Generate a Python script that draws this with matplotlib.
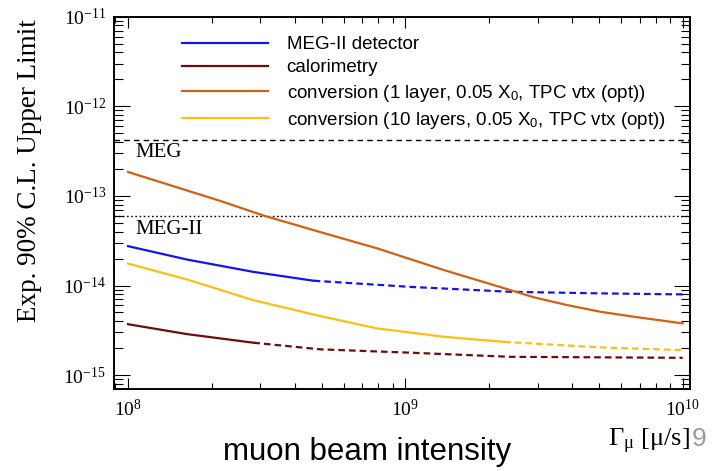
import numpy as np
import matplotlib
matplotlib.use("Agg")
import matplotlib.pyplot as plt
from matplotlib.ticker import FixedLocator, FuncFormatter, NullFormatter

plt.rcParams['mathtext.fontset'] = 'custom'
plt.rcParams['mathtext.rm'] = 'Liberation Serif'
plt.rcParams['mathtext.it'] = 'Liberation Serif:italic'
plt.rcParams['mathtext.sf'] = 'Liberation Sans'
plt.rcParams['font.family'] = ['Liberation Sans', 'DejaVu Sans']

# ---------------- data ----------------
meg_limit = 4.2e-13
megii_sens = 5.9e-14

x_ticks = [1e8, 1e9, 1e10]
y_ticks = [1e-15, 1e-14, 1e-13, 1e-12, 1e-11]

det_x_solid = [1e8, 1.63e8, 2.83e8, 4.67e8]
det_y_solid = [2.75e-14, 1.95e-14, 1.42e-14, 1.13e-14]
det_x_dash = [4.67e8, 1.04e9, 2.39e9, 5.06e9, 1e10]
det_y_dash = [1.13e-14, 9.66e-15, 8.51e-15, 8.17e-15, 7.96e-15]

cal_x_solid = [1e8, 1.63e8, 2.83e8]
cal_y_solid = [3.7e-15, 2.87e-15, 2.3e-15]
cal_x_dash = [2.83e8, 4.93e8, 1.04e9, 2.39e9, 1e10]
cal_y_dash = [2.3e-15, 1.94e-15, 1.78e-15, 1.6e-15, 1.56e-15]

conv1_x = [1e8, 2.15e8, 3.1e8, 4.93e8, 7.91e8, 1.375e9, 2.39e9, 2.9e9,
           3.84e9, 5.06e9, 6.67e9, 1e10]
conv1_y = [1.85e-13, 8.8e-14, 6.0e-14, 3.95e-14, 2.6e-14, 1.49e-14, 8.9e-15, 7.4e-15,
           6.04e-15, 5.09e-15, 4.48e-15, 3.78e-15]

conv10_x_solid = [1e8, 1.63e8, 2.83e8, 4.93e8, 7.91e8, 1.375e9, 2.27e9]
conv10_y_solid = [1.76e-14, 1.17e-14, 6.87e-15, 4.56e-15, 3.32e-15, 2.68e-15, 2.35e-15]
conv10_x_dash = [2.27e9, 5.06e9, 1e10]
conv10_y_dash = [2.35e-15, 2.04e-15, 1.9e-15]

labels = ["MEG-II detector",
          "calorimetry",
          r"conversion (1 layer, 0.05 X$_\mathsf{0}$, TPC vtx (opt))",
          r"conversion (10 layers, 0.05 X$_\mathsf{0}$, TPC vtx (opt))"]
colors = ["#1414f0", "#6e0b0b", "#d3600f", "#ffbe12"]

# ---------------- figure ----------------
fig = plt.figure(figsize=(7.2, 4.71), dpi=100)
L, R, T, B = 114.3, 690.0, 16.7, 389.3
ax = fig.add_axes([L/720, 1-B/471, (R-L)/720, (B-T)/471])
ax.set_xscale('log')
ax.set_yscale('log')
ax.set_xlim(10**(8-13.7/277), 10**(10+7.3/277))
ax.set_ylim(10**(-13-(B-195.7)/89.7), 1e-11)

lw = 1.6
dash = (3.0, 1.8)
ax.axhline(meg_limit, color='black', lw=1.0, ls=(0, (4, 3)))
ax.axhline(megii_sens, color='black', lw=1.0, ls=(0, (1.2, 1.8)))

ax.plot(det_x_solid, det_y_solid, color=colors[0], lw=lw, label=labels[0])
ax.plot(det_x_dash, det_y_dash, color=colors[0], lw=lw, dashes=dash)
ax.plot(cal_x_solid, cal_y_solid, color=colors[1], lw=lw, label=labels[1])
ax.plot(cal_x_dash, cal_y_dash, color=colors[1], lw=lw, dashes=dash)
ax.plot(conv1_x, conv1_y, color=colors[2], lw=lw, label=labels[2])
ax.plot(conv10_x_solid, conv10_y_solid, color=colors[3], lw=lw, label=labels[3])
ax.plot(conv10_x_dash, conv10_y_dash, color=colors[3], lw=lw, dashes=dash)

ax.text((135-L)/(R-L), 0.636, "MEG", transform=ax.transAxes, ha='left', va='center',
        fontsize=15, family='Liberation Serif')
ax.text((135-L)/(R-L), 0.430, "MEG-II", transform=ax.transAxes, ha='left', va='center',
        fontsize=15, family='Liberation Serif')

leg = ax.legend(loc='upper left', bbox_to_anchor=((181.7-L)/(R-L), (B-36)/(B-T)),
                frameon=False, fontsize=13.5, handlelength=4.6, handletextpad=1.0,
                labelspacing=0.33, borderaxespad=0, borderpad=0)

# ticks
minor_x = [m * 10.0**d for d in range(7, 11) for m in range(2, 10)]
minor_y = [m * 10.0**d for d in range(-16, -10) for m in range(2, 10)]
ax.xaxis.set_major_locator(FixedLocator(x_ticks))
ax.yaxis.set_major_locator(FixedLocator(y_ticks))
ax.xaxis.set_minor_locator(FixedLocator(minor_x))
ax.yaxis.set_minor_locator(FixedLocator(minor_y))
fmt = FuncFormatter(lambda v, p: r"$\mathrm{10^{%d}}$" % int(round(np.log10(v))))
ax.xaxis.set_major_formatter(fmt)
ax.yaxis.set_major_formatter(fmt)
ax.xaxis.set_minor_formatter(NullFormatter())
ax.yaxis.set_minor_formatter(NullFormatter())

ax.tick_params(axis='both', which='both', direction='in', top=True, right=True,
               width=0.8, labelsize=14)
ax.tick_params(axis='x', which='major', length=8, pad=7)
ax.tick_params(axis='x', which='minor', length=4.3)
ax.tick_params(axis='y', which='major', length=11.5, pad=6)
ax.tick_params(axis='y', which='minor', length=6.5)
for s in ax.spines.values():
    s.set_linewidth(1.4)

fig.text(30/720, 1-171/471, "Exp. 90% C.L. Upper Limit", rotation=90, ha='center',
         va='center', fontsize=19.5, family='Liberation Serif')
fig.text(367/720, 1-452/471, "muon beam intensity", ha='center', va='center',
         fontsize=22.5, family='Liberation Sans')
fig.text(690/720, 1-441/471, r"$\Gamma_{\mathrm{\mu}}$ [μ/s]", ha='right', va='center',
         fontsize=19, family='Liberation Serif')
fig.text(692/720, 1-439/471, "9", ha='left', va='center', fontsize=19,
         family='Liberation Sans', color='#9a9a9a')

fig.savefig("out.png", dpi=100)
